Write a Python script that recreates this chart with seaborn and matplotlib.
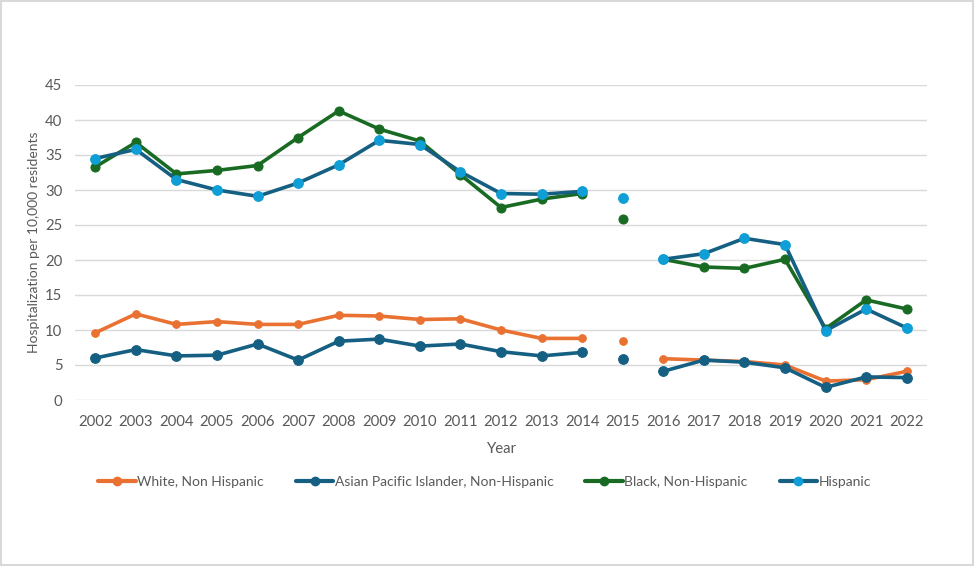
import numpy as np
import pandas as pd
import matplotlib
matplotlib.use('Agg')
import matplotlib.pyplot as plt
from matplotlib.lines import Line2D
from matplotlib.patches import Rectangle
import seaborn as sns

years = list(range(2002, 2023))

white = [9.6, 12.3, 10.8, 11.2, 10.8, 10.8, 12.1, 12.0, 11.5, 11.6, 10.0, 8.8, 8.8,
         8.4, 5.9, 5.7, 5.5, 5.0, 2.7, 2.9, 4.1]
asian = [6.0, 7.2, 6.3, 6.4, 8.0, 5.7, 8.4, 8.7, 7.7, 8.0, 6.9, 6.3, 6.8,
         5.8, 4.1, 5.7, 5.4, 4.6, 1.8, 3.3, 3.2]
black = [33.3, 36.8, 32.3, 32.8, 33.5, 37.5, 41.3, 38.7, 37.0, 32.2, 27.5, 28.7, 29.5,
         25.8, 20.1, 19.0, 18.8, 20.1, 10.2, 14.3, 13.0]
hispanic = [34.5, 35.8, 31.5, 30.0, 29.1, 31.0, 33.6, 37.1, 36.5, 32.6, 29.5, 29.4, 29.8,
            28.8, 20.1, 20.9, 23.1, 22.2, 9.9, 13.0, 10.3]

series_names = ['White, Non Hispanic', 'Asian Pacific Islander, Non-Hispanic',
                'Black, Non-Hispanic', 'Hispanic']
series_values = [white, asian, black, hispanic]
line_colors = ['#E97132', '#156082', '#196B24', '#156082']
marker_colors = ['#E97132', '#156082', '#196B24', '#0F9ED5']
marker_sizes = [5.5, 7, 6.5, 7]

# 2015 stands alone, the lines break on both sides of it
def segment(y):
    if y < 2015:
        return 0
    if y == 2015:
        return 1
    return 2

rows = []
for name, vals in zip(series_names, series_values):
    for y, v in zip(years, vals):
        rows.append({'Series': name, 'Year': y, 'Value': v, 'Segment': segment(y)})
df = pd.DataFrame(rows)

sns.set_style('white')
plt.rcParams['font.family'] = ['Lato', 'DejaVu Sans']

fig = plt.figure(figsize=(9.75, 5.66), dpi=100)
ax = fig.add_axes([75 / 975, 1 - 400 / 566, 852 / 975, 315 / 566])

for name, lc, mc, ms in zip(series_names, line_colors, marker_colors, marker_sizes):
    sub = df[df.Series == name]
    sns.lineplot(data=sub, x='Year', y='Value', units='Segment', estimator=None,
                 color=lc, linewidth=2.6, marker='o', markersize=ms,
                 markerfacecolor=mc, markeredgecolor=mc, ax=ax, zorder=3)

ax.set_xlim(2001.5, 2022.5)
ax.set_ylim(0, 45)
ax.set_xticks(years)
ax.set_yticks(np.arange(0, 50, 5))
ax.grid(axis='y', color='#d9d9d9', linewidth=1)
ax.grid(axis='x', visible=False)
for s in ax.spines.values():
    s.set_visible(False)
ax.tick_params(axis='both', length=0, labelsize=10.7, labelcolor='#595959')
ax.tick_params(axis='y', pad=9)
ax.tick_params(axis='x', pad=11)
ax.set_xlabel('Year', fontsize=10.7, color='#595959', labelpad=9)
ax.set_ylabel('Hospitalization per 10,000 residents', fontsize=10, color='#595959', labelpad=4)

handles = [Line2D([0], [0], color=lc, linewidth=3, marker='o', markersize=6,
                  markerfacecolor=mc, markeredgecolor=mc)
           for lc, mc in zip(line_colors, marker_colors)]
fig.legend(handles, series_names, loc='center', bbox_to_anchor=(0.497, 0.148), ncol=4,
           frameon=False, fontsize=10, labelcolor='#595959', handlelength=2.7,
           handletextpad=0.1, columnspacing=2.3)

fig.patches.append(Rectangle((0.001, 0.002), 0.997, 0.996, transform=fig.transFigure,
                             fill=False, edgecolor='#d9d9d9', linewidth=1.5))

fig.savefig('out.png', dpi=100)
